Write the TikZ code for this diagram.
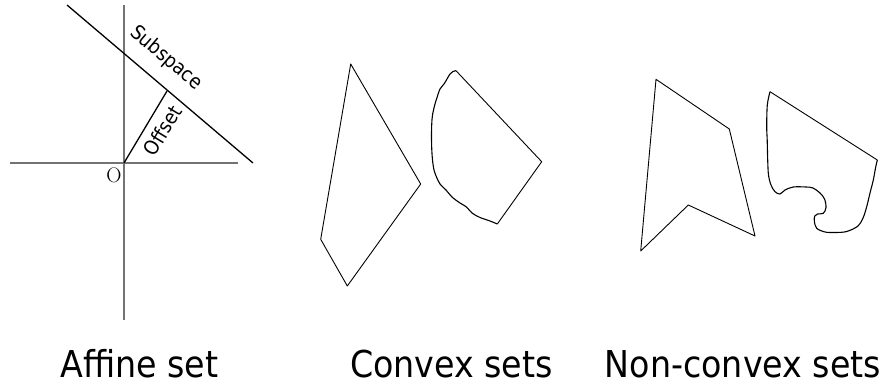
\documentclass[tikz,border=0pt]{standalone}
\usepackage{fontspec}
\newfontfamily\dvc{DejaVu Sans Condensed}
\begin{document}
\begin{tikzpicture}[x=1pt,y=-1pt,
  axis/.style={draw=black!55,line width=1.2pt},
  edge/.style={draw=black,line width=0.9pt,line join=round},
  wig/.style={draw=black,line width=1.1pt,line join=round},
  captext/.style={font=\dvc\fontsize{37}{40}\selectfont,anchor=base,text depth=0pt,inner sep=0pt},
  lab/.style={font=\dvc\fontsize{20}{22}\selectfont,inner sep=0pt}]
\useasboundingbox (0,0) rectangle (883,383);
% axes
\coordinate (vt) at (124,5);
\coordinate (vb) at (124,320);
\coordinate (hl) at (10,163);
\coordinate (hr) at (238,163);
\coordinate (o) at (124,163);
\draw[axis] (vt) -- (vb);
\draw[axis] (hl) -- (hr);
% subspace line and offset
\coordinate (s1) at (67,5);
\coordinate (s2) at (253,163);
\coordinate (f) at (167,91);
\draw[edge,line width=1.3pt] (s1) -- (s2);
\draw[edge,line width=1.3pt] (o) -- (f);
\node[lab,rotate=-40.3] (sub) at (166,58) {Subspace};
\node[lab,rotate=58.8] (off) at (162.5,130.5) {Offset};
\node[font=\fontsize{21}{22}\selectfont,inner sep=0pt] (olab) at (114,175.5) {O};
% convex quadrilateral
\coordinate (q1) at (350.7,64);
\coordinate (q2) at (420.7,184);
\coordinate (q3) at (347.3,286);
\coordinate (q4) at (320.7,239.3);
\draw[edge] (q1) -- (q2) -- (q3) -- (q4) -- cycle;
% convex curved shape
\coordinate (c1) at (456,70.7);
\coordinate (c2) at (541.7,161.7);
\coordinate (c3) at (497.3,224);
\draw[edge] (c1) -- (c2) -- (c3);
\draw[wig] plot[smooth,tension=0.55] coordinates {(497.3,224) (490,221) (480,217.5) (472,213) (466.5,207) (460,203) (452,197) (446,190) (440,184) (436.5,177) (434,170) (432.5,160) (431.8,150) (431.5,138) (431.7,125) (432.5,115) (435,104) (437.5,96) (440,89) (444,84) (447,79) (450,74) (453,71.5) (456,70.7)};
% non-convex arrow shape
\coordinate (n1) at (656,79.3);
\coordinate (n2) at (729.3,129);
\coordinate (n3) at (755,236);
\coordinate (n4) at (688.3,205);
\coordinate (n5) at (640.7,251);
\draw[edge] (n1) -- (n2) -- (n3) -- (n4) -- (n5) -- cycle;
% non-convex blob
\coordinate (b1) at (770,91.7);
\coordinate (b2) at (877.3,160);
\draw[edge] (b1) -- (b2);
\draw[wig] plot[smooth,tension=0.55] coordinates {(877.3,160) (875.5,168) (873.3,180) (870,193) (866.7,206.7) (863,218) (858,226) (846.7,231.5) (835,232.5) (825,232) (816.7,228.3) (814.3,221) (814.8,216) (817.5,214) (823.3,213.3) (826,207.5) (824.5,199) (820,193) (813,188) (806,187) (793.3,187) (785,190) (780,194) (775,191.7) (771,185) (768.5,175) (767.7,160) (767.2,140) (766.7,126.7) (767.3,105) (770,91.7)};
% captions
\node[captext] (c_aff) at (139.5,377) {Affine set};
\node[captext] (c_cvx) at (451.5,377) {Convex sets};
\node[captext] (c_non) at (743,377) {Non-convex sets};
\end{tikzpicture}
\end{document}
